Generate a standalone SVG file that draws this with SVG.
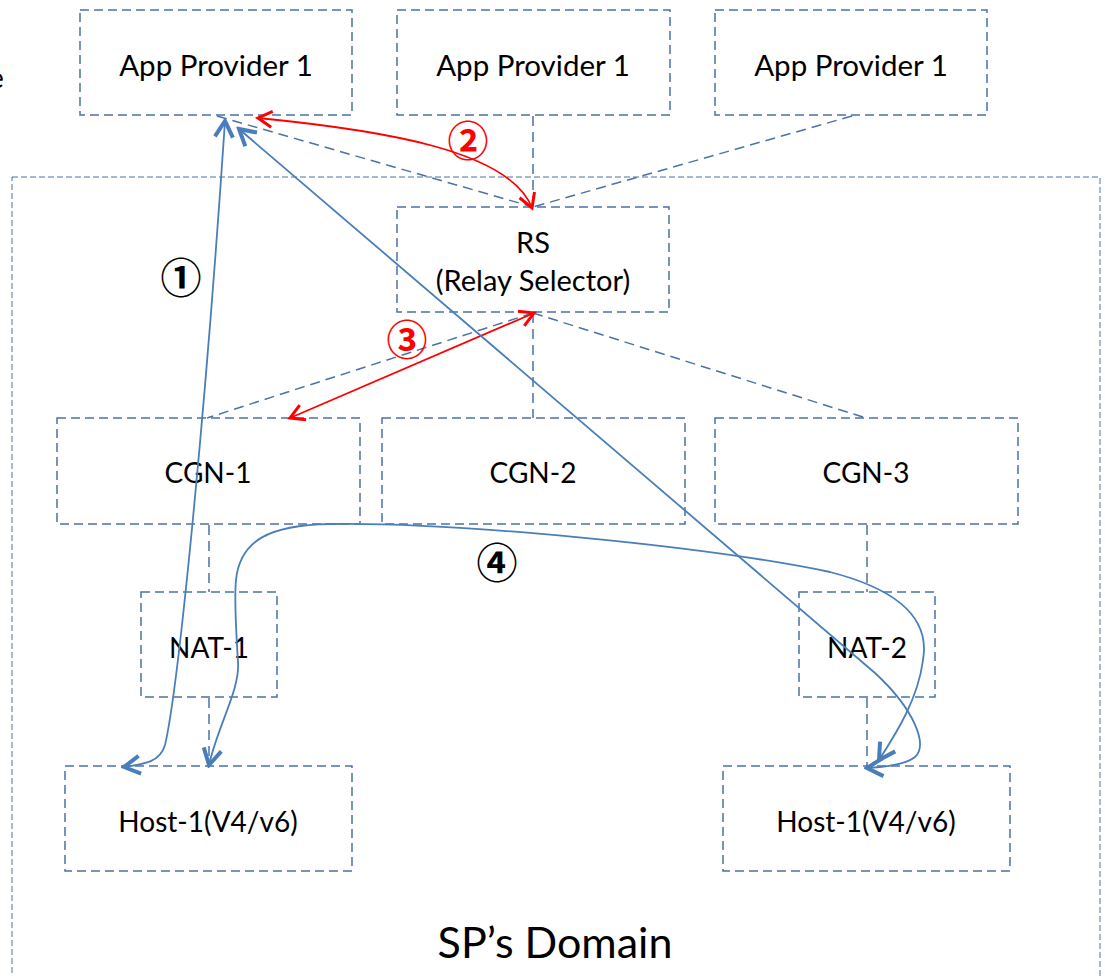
<svg xmlns="http://www.w3.org/2000/svg" width="1105" height="976" viewBox="0 0 1105 976">
<style>
.box{fill:none;stroke:#4a72a6;stroke-width:1.5;stroke-dasharray:9 5}
.dom{fill:none;stroke:#4a72a6;stroke-width:1;stroke-dasharray:6 3}
.lbl{font-family:Lato,"Liberation Sans",sans-serif;font-size:28px;fill:#000;text-anchor:middle}
.ap{font-size:29.5px}
.rs{font-size:29px}
.num{font-family:"Noto Sans CJK JP","DejaVu Sans",sans-serif;font-size:41px;font-weight:bold;text-anchor:middle}
.dash{fill:none;stroke:#4a72a6;stroke-width:1.5;stroke-dasharray:10 6}
.blue{fill:none;stroke:#4a7ebb;stroke-width:1.8}
.red{fill:none;stroke:#ff0000;stroke-width:1.8}
</style>
<defs>
<marker id="ar" viewBox="0 0 20 20" refX="17" refY="10" markerWidth="20" markerHeight="20" markerUnits="userSpaceOnUse" orient="auto-start-reverse">
<path d="M3,2 L17,10 L3,18" fill="none" stroke="#ff0000" stroke-width="3"/>
</marker>
<marker id="ab" viewBox="0 0 22 22" refX="19" refY="11" markerWidth="22" markerHeight="22" markerUnits="userSpaceOnUse" orient="auto-start-reverse">
<path d="M3,2 L19,11 L3,20" fill="none" stroke="#4a7ebb" stroke-width="4"/>
</marker>
</defs>
<rect width="1105" height="976" fill="#fff"/>
<text class="lbl" x="-11" y="88" style="text-anchor:start">e</text>

<g id="sp-domain">
<rect class="dom" x="12" y="177" width="1088" height="840"/>
<text class="lbl" x="555" y="958" style="font-size:43px">SP’s Domain</text>
</g>
<g id="app-provider-1a"><rect class="box" x="80" y="10" width="272" height="105"/><text class="lbl ap" x="216" y="76">App Provider 1</text></g>
<g id="app-provider-1b"><rect class="box" x="397" y="10" width="273" height="105"/><text class="lbl ap" x="533" y="76">App Provider 1</text></g>
<g id="app-provider-1c"><rect class="box" x="715" y="10" width="272" height="105"/><text class="lbl ap" x="851" y="76">App Provider 1</text></g>
<g id="rs"><rect class="box" x="397" y="207" width="272" height="105"/><text class="lbl rs" x="533" y="253">RS</text><text class="lbl rs" x="533" y="291">(Relay Selector)</text></g>
<g id="cgn-1"><rect class="box" x="57" y="418" width="303" height="106"/><text class="lbl" x="208" y="483">CGN-1</text></g>
<g id="cgn-2"><rect class="box" x="382" y="418" width="303" height="106"/><text class="lbl" x="533" y="483">CGN-2</text></g>
<g id="cgn-3"><rect class="box" x="715" y="418" width="303" height="106"/><text class="lbl" x="866" y="483">CGN-3</text></g>
<g id="nat-1"><rect class="box" x="141" y="592" width="136" height="105"/><text class="lbl" x="209" y="658">NAT-1</text></g>
<g id="nat-2"><rect class="box" x="799" y="592" width="136" height="105"/><text class="lbl" x="867" y="658">NAT-2</text></g>
<g id="host-1a"><rect class="box" x="65" y="766" width="287" height="105"/><text class="lbl" x="208" y="832">Host-1(V4/v6)</text></g>
<g id="host-1b"><rect class="box" x="723" y="766" width="287" height="105"/><text class="lbl" x="866" y="832">Host-1(V4/v6)</text></g>

<g id="connectors">
<line class="dash" x1="217" y1="116" x2="533" y2="207"/>
<line class="dash" x1="533" y1="116" x2="533" y2="207"/>
<line class="dash" x1="852" y1="116" x2="533" y2="207"/>
<line class="dash" x1="533" y1="313" x2="207" y2="418"/>
<line class="dash" x1="533" y1="313" x2="533" y2="418"/>
<line class="dash" x1="533" y1="313" x2="866" y2="418"/>
<line class="dash" x1="209" y1="525" x2="209" y2="592"/>
<line class="dash" x1="209" y1="698" x2="209" y2="766"/>
<line class="dash" x1="867" y1="525" x2="867" y2="592"/>
<line class="dash" x1="867" y1="698" x2="867" y2="766"/>

<path class="red" d="M258,118 C380,130 510,150 532,208" marker-start="url(#ar)" marker-end="url(#ar)"/>
<path class="red" d="M290,418 L534,313" marker-start="url(#ar)" marker-end="url(#ar)"/>

<path class="blue" d="M225,121 C205,420 178,690 165,745 C160,762 145,764 124,767" marker-start="url(#ab)" marker-end="url(#ab)"/>
<path class="blue" d="M239,129 L875,673 C915,710 928,745 915,757 C905,765 885,767 867,768" marker-start="url(#ab)" marker-end="url(#ab)"/>
<path class="blue" d="M209,765 C218,725 240,690 238,662 C236,630 234,600 236,580 C240,540 270,525 330,524 C450,522 700,545 830,572 C900,590 930,620 923,660 C918,700 895,735 879,760" marker-start="url(#ab)" marker-end="url(#ab)"/>

<text class="num" x="181" y="293">①</text>
<text class="num" x="468" y="156" fill="#ff0000">②</text>
<text class="num" x="407" y="355" fill="#ff0000">③</text>
<text class="num" x="497" y="578">④</text>
</g>
</svg>
